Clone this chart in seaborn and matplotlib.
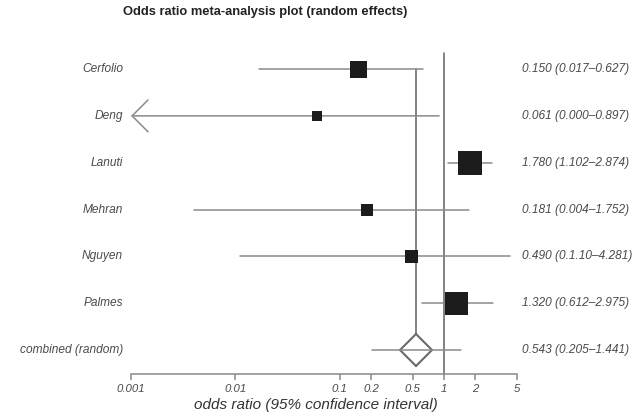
import matplotlib
matplotlib.use("Agg")
import matplotlib.pyplot as plt
import matplotlib.transforms as mtransforms
import numpy as np
import seaborn as sns

# Study data (odds ratios with 95% confidence intervals)
studies = ["Cerfolio", "Deng", "Lanuti", "Mehran", "Nguyen", "Palmes"]
odds = [0.150, 0.061, 1.780, 0.181, 0.490, 1.320]
lower = [0.017, 0.000, 1.102, 0.004, 0.011, 0.612]
upper = [0.627, 0.897, 2.874, 1.752, 4.281, 2.975]
ci_text = ["0.150 (0.017\u20130.627)", "0.061 (0.000\u20130.897)",
           "1.780 (1.102\u20132.874)", "0.181 (0.004\u20131.752)",
           "0.490 (0.1.10\u20134.281)", "1.320 (0.612\u20132.975)"]
weights = [17, 10, 24, 12, 12.5, 23]  # relative box sizes

pooled_label = "combined (random)"
pooled_or = 0.543
pooled_lo = 0.205
pooled_hi = 1.441
pooled_text = "0.543 (0.205\u20131.441)"

tick_values = [0.001, 0.01, 0.1, 0.2, 0.5, 1, 2, 5]
tick_labels = ["0.001", "0.01", "0.1", "0.2", "0.5", "1", "2", "5"]

sns.set_theme(style="white")
plt.rcParams["font.family"] = ["Liberation Sans", "DejaVu Sans"]

DPI = 100
fig = plt.figure(figsize=(6.36, 4.16), dpi=DPI)
ax = fig.add_axes([131 / 636, 1 - 374 / 416, 386 / 636, (374 - 45.6) / 416])

XMIN, XMAX = tick_values[0], tick_values[-1]
ax.set_xscale("log")
ax.set_xlim(XMIN, XMAX)
n = len(studies)
ax.set_ylim(n + 0.51, -0.5)

line_col = "#8a8a8a"
vert_col = "#606060"
text_col = "#4a4a4a"
rows = np.arange(n)

# Reference line at OR = 1 and pooled-estimate line
ax.plot([1, 1], [-0.34, n + 0.51], color=vert_col, lw=1.1, zorder=1, clip_on=False)
ax.plot([pooled_or, pooled_or], [0, n], color=vert_col, lw=1.1, zorder=1)

# Confidence interval whiskers (arrow where the bound runs off the axis)
for r, lo, hi in zip(rows, lower, upper):
    if lo < XMIN:
        ax.annotate("", xy=(XMIN, r), xytext=(hi, r),
                    arrowprops=dict(arrowstyle="->,head_length=1,head_width=1",
                                    mutation_scale=11.5, color=line_col, lw=1.1,
                                    shrinkA=0, shrinkB=0))
    else:
        ax.plot([lo, hi], [r, r], color=line_col, lw=1.1, zorder=2)

# Study boxes sized by weight
sns.scatterplot(x=odds, y=rows, marker="s", s=[(w * 72 / DPI) ** 2 for w in weights],
                color="#1c1c1c", linewidth=0, ax=ax, zorder=3, legend=False)

# Pooled diamond
ax.plot([pooled_or], [n], marker="D", ms=32 / np.sqrt(2) * 72 / DPI,
        mfc="white", mec="#6a6a6a", mew=1.5, zorder=4, clip_on=False)
ax.plot([pooled_lo, pooled_hi], [n, n], color=line_col, lw=1.1, zorder=5)

# Row labels
lab_tr = mtransforms.blended_transform_factory(ax.transAxes, ax.transData)
all_names = studies + [pooled_label]
all_ci = ci_text + [pooled_text]
for r, (name, txt) in enumerate(zip(all_names, all_ci)):
    ax.text(-8 / 386, r, name, transform=lab_tr, ha="right", va="center",
            fontsize=8.6, style="italic", color=text_col)
    ax.text(1 + 5 / 386, r, txt, transform=lab_tr, ha="left", va="center",
            fontsize=8.6, style="italic", color=text_col)

# Axis styling
for side in ["left", "top", "right"]:
    ax.spines[side].set_visible(False)
ax.spines["bottom"].set_color(line_col)
ax.spines["bottom"].set_linewidth(1.1)
ax.set_yticks([])
ax.set_xticks(tick_values)
ax.set_xticklabels(tick_labels, fontsize=8.2, style="italic", color=text_col)
ax.xaxis.set_minor_locator(matplotlib.ticker.NullLocator())
ax.tick_params(axis="x", direction="out", length=4, width=1.1, color=line_col,
               pad=3, bottom=True)
ax.patch.set_alpha(0)

fig.text(265 / 636, 1 - 12 / 416, "Odds ratio meta-analysis plot (random effects)",
         ha="center", va="center", fontsize=9.3, fontweight="bold", color="#222222")
fig.text(316 / 636, 1 - 405 / 416, "odds ratio (95% confidence interval)",
         ha="center", va="center", fontsize=11, style="italic", color="#333333")

fig.savefig("out.png", dpi=DPI)
